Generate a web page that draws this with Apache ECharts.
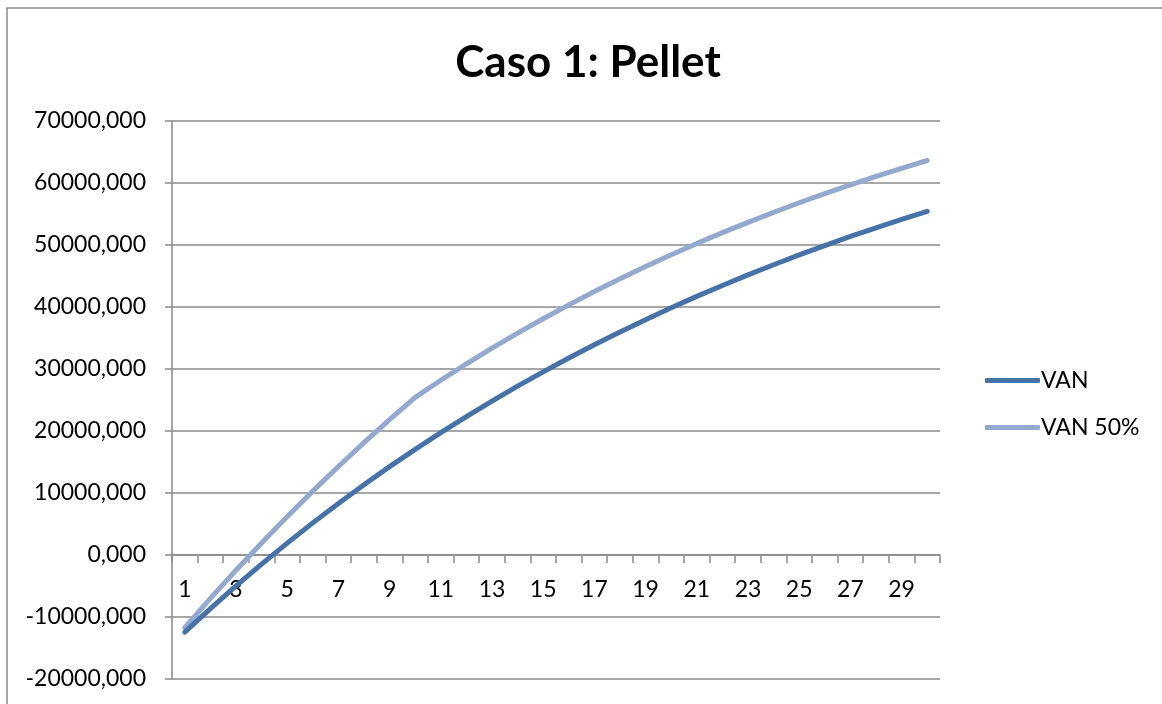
<!DOCTYPE html>
<html>
<head>
<meta charset="utf-8">
<script src="https://cdn.jsdelivr.net/npm/echarts@6/dist/echarts.min.js"></script>
<style>
  html, body { margin: 0; padding: 0; background: #ffffff; }
  #chart { width: 1162px; height: 704px; }
</style>
</head>
<body>
<div id="chart"></div>
<script>
// Years of the project horizon
const years = [1, 2, 3, 4, 5, 6, 7, 8, 9, 10, 11, 12, 13, 14, 15,
               16, 17, 18, 19, 20, 21, 22, 23, 24, 25, 26, 27, 28, 29, 30];

// Cumulative net present value per year
const van = [-12450, -8650, -4990, -1470, 1920, 5180, 8320, 11340, 14250, 17040,
             19740, 22330, 24830, 27230, 29540, 31770, 33910, 35970, 37960, 39870,
             41710, 43480, 45180, 46820, 48400, 49910, 51380, 52780, 54140, 55440];

// Cumulative net present value with the 50% case
const van50 = [-11700, -7000, -2460, 1940, 6190, 10300, 14270, 18120, 21830, 25430,
               28180, 30820, 33350, 35780, 38110, 40350, 42490, 44550, 46530, 48420,
               50240, 51990, 53660, 55270, 56810, 58290, 59710, 61070, 62370, 63630];

const seriesNames = ['VAN', 'VAN 50%'];
const yMin = -20000, yMax = 70000, yStep = 10000;

// Plot box in pixels
const gridTop = 121, gridBottom = 25, gridLeft = 172, gridRight = 222;
const plotHeight = 704 - gridTop - gridBottom;
// Category axis sits on the zero line: shift it up from the plot bottom
const zeroOffset = -plotHeight * (0 - yMin) / (yMax - yMin);

const chart = echarts.init(document.getElementById('chart'), null, { renderer: 'canvas' });

const gray = '#8a8a8a';
const font = 'Lato, "Liberation Sans", sans-serif';

chart.setOption({
  animation: false,
  backgroundColor: '#ffffff',
  title: {
    text: 'Caso 1: Pellet',
    left: 583,
    textAlign: 'center',
    top: 36,
    textStyle: { fontFamily: font, fontSize: 44, fontWeight: 'bold', color: '#000000' }
  },
  graphic: [{
    type: 'rect',
    shape: { x: 7, y: 8, width: 1300, height: 900 },
    style: { fill: 'none', stroke: gray, lineWidth: 1.5 },
    silent: true
  }],
  legend: {
    orient: 'vertical',
    left: 980,
    top: 364,
    itemWidth: 55,
    itemHeight: 5,
    itemGap: 24,
    icon: 'roundRect',
    data: seriesNames,
    textStyle: { fontFamily: font, fontSize: 23, color: '#000000', padding: [0, 0, 0, -4] }
  },
  grid: {
    left: gridLeft, right: gridRight, top: gridTop, bottom: gridBottom,
    containLabel: false, outerBoundsMode: 'none'
  },
  xAxis: {
    type: 'category',
    data: years,
    boundaryGap: true,
    position: 'bottom',
    offset: zeroOffset,
    axisLine: { onZero: false, lineStyle: { color: gray, width: 1.5 } },
    axisTick: { show: true, interval: 0, length: 8, lineStyle: { color: gray, width: 1.5 } },
    axisLabel: { interval: 1, margin: 23, fontFamily: font, fontSize: 23, color: '#000000' },
    splitLine: { show: false }
  },
  yAxis: {
    type: 'value',
    min: yMin,
    max: yMax,
    interval: yStep,
    axisLine: { show: true, lineStyle: { color: gray, width: 1.5 } },
    axisTick: { show: true, length: 7, lineStyle: { color: gray, width: 1.5 } },
    axisLabel: {
      margin: 26,
      fontFamily: font,
      fontSize: 23,
      color: '#000000',
      formatter: v => v.toFixed(3).replace('.', ',')
    },
    splitLine: { show: true, lineStyle: { color: gray, width: 1.5 } }
  },
  series: [
    {
      name: seriesNames[0],
      type: 'line',
      data: van,
      symbol: 'none',
      color: '#4672aa',
      lineStyle: { width: 5, cap: 'round', join: 'round', color: '#4672aa' },
      z: 3
    },
    {
      name: seriesNames[1],
      type: 'line',
      data: van50,
      symbol: 'none',
      color: '#93a9cf',
      lineStyle: { width: 5, cap: 'round', join: 'round', color: '#93a9cf' },
      z: 2
    }
  ]
});
</script>
</body>
</html>
